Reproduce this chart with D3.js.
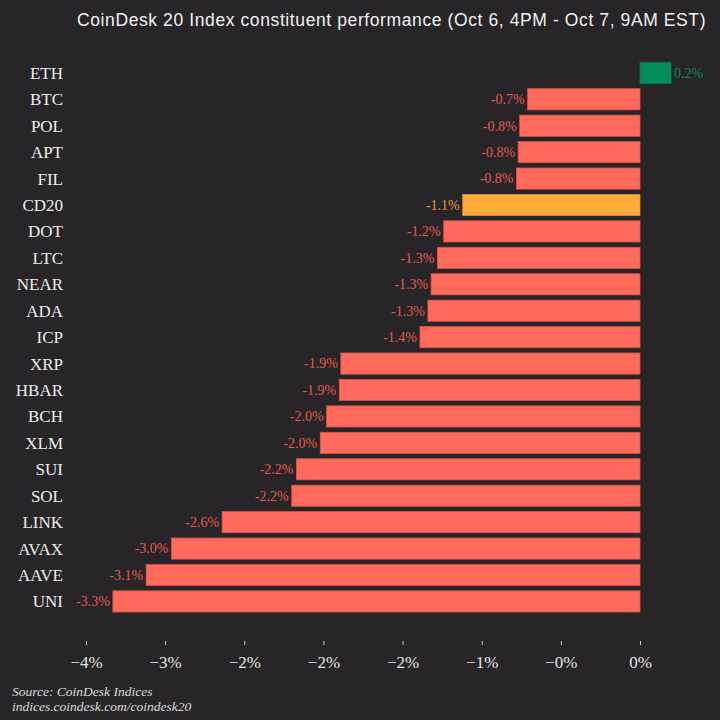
<!DOCTYPE html>
<html lang="en">
<head>
<meta charset="utf-8">
<title>CoinDesk 20 constituent performance</title>
<script src="https://cdn.jsdelivr.net/npm/d3@7"></script>
<style>
  html, body { margin: 0; padding: 0; background: #272528; }
  svg { display: block; }
</style>
</head>
<body>
<div id="chart"></div>
<script>
// data (percent change)
var tickers = ["ETH", "BTC", "POL", "APT", "FIL", "CD20", "DOT", "LTC", "NEAR", "ADA", "ICP",
               "XRP", "HBAR", "BCH", "XLM", "SUI", "SOL", "LINK", "AVAX", "AAVE", "UNI"];
var changes = [0.196, -0.71, -0.76, -0.77, -0.78, -1.12, -1.24, -1.28, -1.32, -1.34, -1.39,
               -1.89, -1.90, -1.98, -2.02, -2.17, -2.20, -2.64, -2.96, -3.12, -3.33];
var changeLabels = ["0.2%", "-0.7%", "-0.8%", "-0.8%", "-0.8%", "-1.1%", "-1.2%", "-1.3%", "-1.3%", "-1.3%", "-1.4%",
                    "-1.9%", "-1.9%", "-2.0%", "-2.0%", "-2.2%", "-2.2%", "-2.6%", "-3.0%", "-3.1%", "-3.3%"];
var tickValues = [-3.5, -3, -2.5, -2, -1.5, -1, -0.5, 0];
var tickLabels = ["\u22124%", "\u22123%", "\u22122%", "\u22122%", "\u22122%", "\u22121%", "\u22120%", "0%"];

var rows = tickers.map(function(t, i) {
  return { ticker: t, value: changes[i], label: changeLabels[i] };
});

var W = 720, H = 720;
var svg = d3.select("#chart")
  .append("svg")
    .attr("width", W)
    .attr("height", H);

svg.append("rect")
  .attr("width", W).attr("height", H)
  .attr("fill", "#272528");

// scales
var x = d3.scaleLinear()
  .domain([-3.5, 0])
  .range([86, 640]);

var y = d3.scaleBand()
  .domain(tickers)
  .range([57, 617.3])
  .paddingInner(0.2)
  .paddingOuter(0.2);

function fillFor(d) {
  if (d.ticker === "CD20") return "#ffab3c";
  return d.value >= 0 ? "#078c5c" : "#ff6a5c";
}
function strokeFor(d) {
  if (d.ticker === "CD20") return "#d98f30";
  return d.value >= 0 ? "#067a50" : "#d95548";
}
function labelColor(d) {
  if (d.ticker === "CD20") return "#e89a36";
  return d.value >= 0 ? "#0b8a5b" : "#e85a4d";
}

// title
svg.append("text")
  .attr("x", 77)
  .attr("y", 26)
  .attr("fill", "#f2f2f2")
  .style("font-family", "'Liberation Sans', Arial, sans-serif")
  .style("font-size", "17.5px")
  .style("letter-spacing", "0.6px")
  .text("CoinDesk 20 Index constituent performance (Oct 6, 4PM - Oct 7, 9AM EST)");

// bars
svg.selectAll("rect.bar")
  .data(rows)
  .enter()
  .append("rect")
    .attr("class", "bar")
    .attr("x", function(d) { return x(Math.min(0, d.value)); })
    .attr("y", function(d) { return y(d.ticker); })
    .attr("width", function(d) { return Math.abs(x(d.value) - x(0)); })
    .attr("height", y.bandwidth())
    .attr("fill", fillFor)
    .attr("stroke", strokeFor)
    .attr("stroke-width", 0.8);

// value labels
svg.selectAll("text.val")
  .data(rows)
  .enter()
  .append("text")
    .attr("class", "val")
    .attr("x", function(d) { return d.value >= 0 ? x(d.value) + 3 : x(d.value) - 3; })
    .attr("y", function(d) { return y(d.ticker) + y.bandwidth() / 2; })
    .attr("dy", "0.35em")
    .attr("text-anchor", function(d) { return d.value >= 0 ? "start" : "end"; })
    .attr("fill", labelColor)
    .style("font-family", "'Liberation Serif', Georgia, serif")
    .style("font-size", "14px")
    .text(function(d) { return d.label; });

// category labels
svg.selectAll("text.cat")
  .data(rows)
  .enter()
  .append("text")
    .attr("class", "cat")
    .attr("x", 63)
    .attr("y", function(d) { return y(d.ticker) + y.bandwidth() / 2; })
    .attr("dy", "0.35em")
    .attr("text-anchor", "end")
    .attr("fill", "#eeeeee")
    .style("font-family", "'Liberation Serif', Georgia, serif")
    .style("font-size", "17px")
    .text(function(d) { return d.ticker; });

// x axis
var xAxis = d3.axisBottom(x)
  .tickValues(tickValues)
  .tickSize(4)
  .tickPadding(11)
  .tickFormat(function(d, i) { return tickLabels[i]; });

var gx = svg.append("g")
  .attr("transform", "translate(0,641)")
  .call(xAxis);
gx.select(".domain").remove();
gx.selectAll(".tick line").attr("stroke", "#cccccc");
gx.selectAll(".tick text")
  .attr("fill", "#e6e6e6")
  .style("font-family", "'Liberation Serif', Georgia, serif")
  .style("font-size", "17px");

// source
svg.append("text")
  .attr("x", 12).attr("y", 696)
  .attr("fill", "#dddddd")
  .style("font-family", "'Liberation Serif', Georgia, serif")
  .style("font-style", "italic")
  .style("font-size", "13.5px")
  .text("Source: CoinDesk Indices");
svg.append("text")
  .attr("x", 12).attr("y", 711)
  .attr("fill", "#dddddd")
  .style("font-family", "'Liberation Serif', Georgia, serif")
  .style("font-style", "italic")
  .style("font-size", "13.5px")
  .text("indices.coindesk.com/coindesk20");
</script>
</body>
</html>
